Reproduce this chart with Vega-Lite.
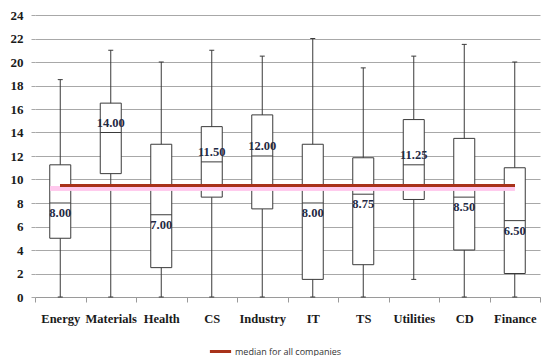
{
  "$schema": "https://vega.github.io/schema/vega-lite/v6.json",
  "width": 505,
  "height": 282,
  "autosize": {"type": "none"},
  "padding": {"left": 35, "top": 15, "right": 10, "bottom": 59},
  "background": "white",
  "config": {
    "view": {"stroke": null},
    "axisY": {
      "title": null, "domain": false, "grid": true, "gridColor": "#a8a8a8", "tickColor": "#a8a8a8", "tickSize": 4,
      "labelPadding": 8, "labelFont": "Liberation Serif", "labelFontWeight": "bold", "labelFontSize": 13, "labelColor": "#1a1a1a",
      "labelOverlap": false, "tickCount": 12
    }
  },
  "data": {
    "values": [
      {"cat": "Energy", "min": 0, "q1": 5, "median": 8, "q3": 11.25, "max": 18.5},
      {"cat": "Materials", "min": 0, "q1": 10.5, "median": 14, "q3": 16.5, "max": 21},
      {"cat": "Health", "min": 0, "q1": 2.5, "median": 7, "q3": 13, "max": 20},
      {"cat": "CS", "min": 0, "q1": 8.5, "median": 11.5, "q3": 14.5, "max": 21},
      {"cat": "Industry", "min": 0, "q1": 7.5, "median": 12, "q3": 15.5, "max": 20.5},
      {"cat": "IT", "min": 0, "q1": 1.5, "median": 8, "q3": 13, "max": 22},
      {"cat": "TS", "min": 0, "q1": 2.75, "median": 8.75, "q3": 11.85, "max": 19.5},
      {"cat": "Utilities", "min": 1.5, "q1": 8.3, "median": 11.25, "q3": 15.1, "max": 20.5},
      {"cat": "CD", "min": 0, "q1": 4, "median": 8.5, "q3": 13.5, "max": 21.5},
      {"cat": "Finance", "min": 0, "q1": 2, "median": 6.5, "q3": 11, "max": 20}
    ]
  },
  "encoding": {
    "x": {
      "field": "cat", "type": "nominal", "sort": null,
      "scale": {"paddingInner": 0, "paddingOuter": 0},
      "axis": {
        "title": null, "labelAngle": 0, "domainColor": "#9a9a9a", "tickColor": "#9a9a9a",
        "tickBand": "extent", "tickSize": 5, "labelPadding": 10,
        "labelFont": "Liberation Serif", "labelFontWeight": "bold", "labelFontSize": 12.5, "labelColor": "#1a1a1a"
      }
    }
  },
  "layer": [
    {
      "mark": {"type": "rule", "color": "#3a3a3a", "strokeWidth": 1},
      "encoding": {
        "y": {
          "field": "min", "type": "quantitative",
          "scale": {"domain": [0, 24], "nice": false}
        },
        "y2": {"field": "max"}
      }
    },
    {
      "mark": {"type": "bar", "fill": "white", "stroke": "#3a3a3a", "strokeWidth": 1, "size": 21},
      "encoding": {"y": {"field": "q1", "type": "quantitative"}, "y2": {"field": "q3"}}
    },
    {
      "mark": {"type": "tick", "color": "#3a3a3a", "size": 21, "thickness": 1, "opacity": 1},
      "encoding": {"y": {"field": "median", "type": "quantitative"}}
    },
    {
      "mark": {"type": "tick", "color": "#3a3a3a", "size": 5, "thickness": 1, "opacity": 1},
      "encoding": {"y": {"field": "max", "type": "quantitative"}}
    },
    {
      "mark": {"type": "tick", "color": "#3a3a3a", "size": 5, "thickness": 1, "opacity": 1},
      "encoding": {"y": {"field": "min", "type": "quantitative"}}
    },
    {
      "mark": {"type": "rule", "color": "#ffc8ec", "strokeWidth": 4, "opacity": 0.85},
      "encoding": {
        "x": {"datum": "Energy", "bandPosition": 0.3},
        "x2": {"datum": "Finance"},
        "y": {"datum": 9.25}
      }
    },
    {
      "mark": {"type": "rule", "strokeWidth": 2},
      "encoding": {
        "x": {"datum": "Energy"},
        "x2": {"datum": "Finance"},
        "y": {"datum": 9.5},
        "color": {
          "datum": "median for all companies",
          "scale": {"range": ["#a8321a"]},
          "legend": {
            "title": null, "orient": "none", "legendX": 173, "legendY": 324,
            "symbolType": "stroke", "symbolSize": 450, "symbolStrokeWidth": 3,
            "labelFont": "Open Sans", "labelFontSize": 9, "labelColor": "#333333", "labelOffset": 2
          }
        }
      }
    },
    {
      "transform": [{"filter": "datum.median > 10"}],
      "mark": {"type": "text", "dy": -10, "font": "Liberation Serif", "fontWeight": "bold", "fontSize": 12.5, "color": "#1f2a44"},
      "encoding": {
        "y": {"field": "median", "type": "quantitative"},
        "text": {"field": "median", "type": "quantitative", "format": ".2f"}
      }
    },
    {
      "transform": [{"filter": "datum.median <= 10"}],
      "mark": {"type": "text", "dy": 10, "font": "Liberation Serif", "fontWeight": "bold", "fontSize": 12.5, "color": "#1f2a44"},
      "encoding": {
        "y": {"field": "median", "type": "quantitative"},
        "text": {"field": "median", "type": "quantitative", "format": ".2f"}
      }
    }
  ]
}
